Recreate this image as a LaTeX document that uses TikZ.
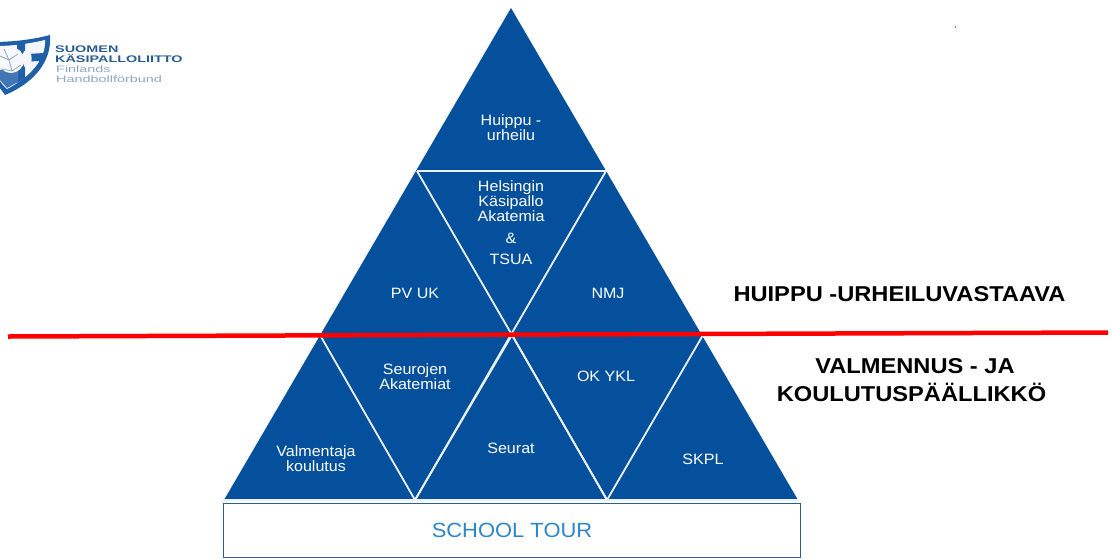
\documentclass[tikz,border=0pt]{standalone}
\usepackage{fontspec}
\setmainfont{Liberation Sans}
\newfontfamily\stretchfont[FakeStretch=1.07]{Liberation Sans}
\newfontfamily\headfont[FakeStretch=1.1,BoldFont={Liberation Sans Bold}]{Liberation Sans Bold}
\newfontfamily\logobold[FakeStretch=1.5]{Liberation Sans Bold}
\newfontfamily\logoreg[FakeStretch=1.55]{Liberation Sans}
\definecolor{pyr}{HTML}{04509C}
\definecolor{logoblue}{HTML}{1F5FA8}
\definecolor{logodark}{HTML}{2A5C94}
\definecolor{logolite}{HTML}{8FA6C4}
\definecolor{tour}{HTML}{2E86C8}
\definecolor{frame}{HTML}{2A5F8F}
\tikzset{
  lab/.style={text=white,font=\stretchfont\fontsize{15}{13.5}\selectfont,align=center,inner sep=0pt},
  head/.style={text=black,font=\headfont\fontsize{21.5}{26}\selectfont,align=center,inner sep=0pt},
  sep/.style={draw=white!92!pyr,line width=1.8pt},
  logot/.style={inner sep=0pt,anchor=west}
}
\begin{document}
\begin{tikzpicture}[x=1pt,y=-1pt]
\useasboundingbox (0,0) rectangle (1112,558);
% pyramid corners
\coordinate (apex) at (511,8);
\coordinate (mL) at (417,171);
\coordinate (mR) at (606,171);
\coordinate (lL) at (320,335);
\coordinate (lC) at (512,335);
\coordinate (lR) at (703,335);
\coordinate (bA) at (224,500);
\coordinate (bB) at (415,500);
\coordinate (bC) at (607,500);
\coordinate (bD) at (798,500);
\fill[pyr] (apex) -- (bD) -- (bA) -- cycle;
\draw[sep] (mL) -- (mR) -- (bB);
\draw[sep] (mL) -- (lC) -- (bC);
\draw[sep] (lL) -- (bB) -- (lC);
\draw[sep] (lC) -- (bC) -- (lR);
\draw[sep] (bA) -- (bD);
% base box
\node[draw=frame,line width=1pt,fill=white,minimum width=577pt,minimum height=54pt,inner sep=0pt,anchor=north west,
  text=tour,font=\stretchfont\fontsize{20.5}{22}\selectfont] (tour) at (223,503) {SCHOOL TOUR};
% labels
\node[lab] (huippu) at (511,128) {Huippu -\\urheilu};
\node[lab] (hka) at (511,201.5) {Helsingin\\Käsipallo\\Akatemia};
\node[lab] (amp) at (511,238) {\&};
\node[lab] (tsua) at (511,259) {TSUA};
\node[lab] (pvuk) at (415,293) {PV UK};
\node[lab] (nmj) at (608,293) {NMJ};
\node[lab] (seurojen) at (415,376.5) {Seurojen\\Akatemiat};
\node[lab] (okykl) at (606,376) {OK YKL};
\node[lab] (valm) at (316,458.5) {Valmentaja\\koulutus};
\node[lab] (seurat) at (511,448) {Seurat};
\node[lab] (skpl) at (703,459) {SKPL};
% red line
\coordinate (redL) at (8,336.5);
\coordinate (redR) at (1108,332.5);
\draw[red,line width=4.5pt] (redL) -- (redR);
% headings
\node[head] (h1) at (899.5,294) {HUIPPU -URHEILUVASTAAVA};
\node[head] (h2a) at (915,366) {VALMENNUS - JA};
\node[head] (h2b) at (911.5,392) {KOULUTUSPÄÄLLIKKÖ};
% stray red dot
\fill[red!70!white] (955.5,27) circle (0.8pt);
% logo
\begin{scope}
\clip (0,0) rectangle (60,100);
\fill[logoblue] (-8,42) .. controls (15,42) and (35,39) .. (50,35) .. controls (52,60) and (36,82) .. (5,95) .. controls (2,90) and (-4,84) .. (-8,78) -- cycle;
\fill[white!90!logolite] (-4,46) .. controls (15,46) and (32,43) .. (45,40) .. controls (46,58) and (32,76) .. (7,89) .. controls (3,86) and (-1,80) .. (-4,74) -- cycle;
\fill[logoblue] (10,55) -- (44,53) -- (42,61) -- (10,62) -- cycle;
\fill[logoblue] (17,44) -- (25,43) -- (25,78) -- (17,83) -- cycle;
\fill[logoblue!85!white] (0,70) -- (18,70) -- (18,82) -- (7,88) -- (0,80) -- cycle;
\fill[white!92!logolite] (11,60) circle (13pt);
\draw[logolite,line width=.8pt] (0,56) -- (9,60) -- (18,54) (9,60) -- (12,71) (1,69) -- (12,71) -- (21,65) (4,49) -- (9,60);
\fill[white!90!logolite] (24,66) .. controls (21,58) and (22,50) .. (27,50) .. controls (33,52) and (33,62) .. (28,70) -- cycle;
\end{scope}
\node[logot,text=logodark,font=\logobold\fontsize{9.6}{9}\selectfont] (lg1) at (55,49) {SUOMEN};
\node[logot,text=logodark,font=\logobold\fontsize{9.6}{9}\selectfont] (lg2) at (55,58) {KÄSIPALLOLIITTO};
\node[logot,text=logolite,font=\logoreg\fontsize{9.3}{9}\selectfont] (lg3) at (56,69) {Finlands};
\node[logot,text=logolite,font=\logoreg\fontsize{9.3}{9}\selectfont] (lg4) at (56,79) {Handbollförbund};
\end{tikzpicture}
\end{document}
